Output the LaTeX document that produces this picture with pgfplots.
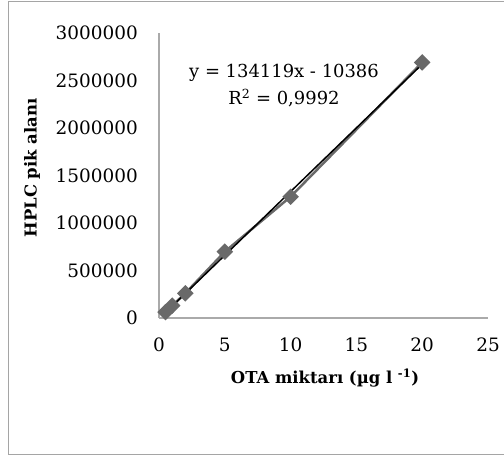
\documentclass[border=0pt]{standalone}
\usepackage{fontspec}
\setmainfont{DejaVu Serif}
\usepackage{pgfplots}
\pgfplotsset{compat=1.18}
\definecolor{axgray}{RGB}{170,170,170}
\definecolor{mkgray}{RGB}{105,105,105}
\definecolor{framegray}{RGB}{165,165,165}

\begin{document}
\begin{tikzpicture}[x=1bp,y=1bp]
\useasboundingbox (-159,-138) rectangle (345,318);
\draw[framegray, line width=1.3bp] (-150.5,316.5) rectangle (352,-136.5);
\begin{axis}[at={(0,0)}, anchor=south west,
  scale only axis, width=329bp, height=285bp,
  xmin=0, xmax=25, ymin=0, ymax=3000000,
  scaled y ticks=false, scaled x ticks=false,
  axis x line=bottom, axis y line=left,
  axis line style={axgray, line width=1.2bp, -},
  major tick length=0pt,
  xtick={0,5,10,15,20,25},
  xticklabels={0,5,10,15,20,25},
  ytick={0,500000,1000000,1500000,2000000,2500000,3000000},
  yticklabels={0,500000,1000000,1500000,2000000,2500000,3000000},
  tick label style={font=\fontsize{18.5}{21}\selectfont, inner sep=0pt},
  xticklabel style={anchor=north, yshift=-20bp},
  yticklabel style={anchor=east, xshift=-21bp},
  clip=false]
\addplot[mkgray, line width=2.5bp, mark=square*, mark size=4.6bp,
  mark options={solid, fill=mkgray, draw=mkgray, rotate=45}]
  coordinates {(0.5,62000) (1,130000) (2,260000) (5,698000) (10,1277000) (20,2690000)};
\addplot[black, line width=1.5bp] coordinates {(0.5,56674) (20,2671994)};
\node[font=\fontsize{18}{21}\selectfont] at (axis cs:9.5,2580000) {y = 134119x - 10386};
\node[font=\fontsize{18}{21}\selectfont] at (axis cs:9.5,2315000) {R\textsuperscript{2} = 0,9992};
\end{axis}
\node[font=\fontsize{16.5}{19}\selectfont\bfseries] at (166,-60) {OTA miktarı (µg l \textsuperscript{-1})};
\node[font=\fontsize{16.5}{19}\selectfont\bfseries, rotate=90] at (-127,150) {HPLC pik alanı};
\end{tikzpicture}
\end{document}
